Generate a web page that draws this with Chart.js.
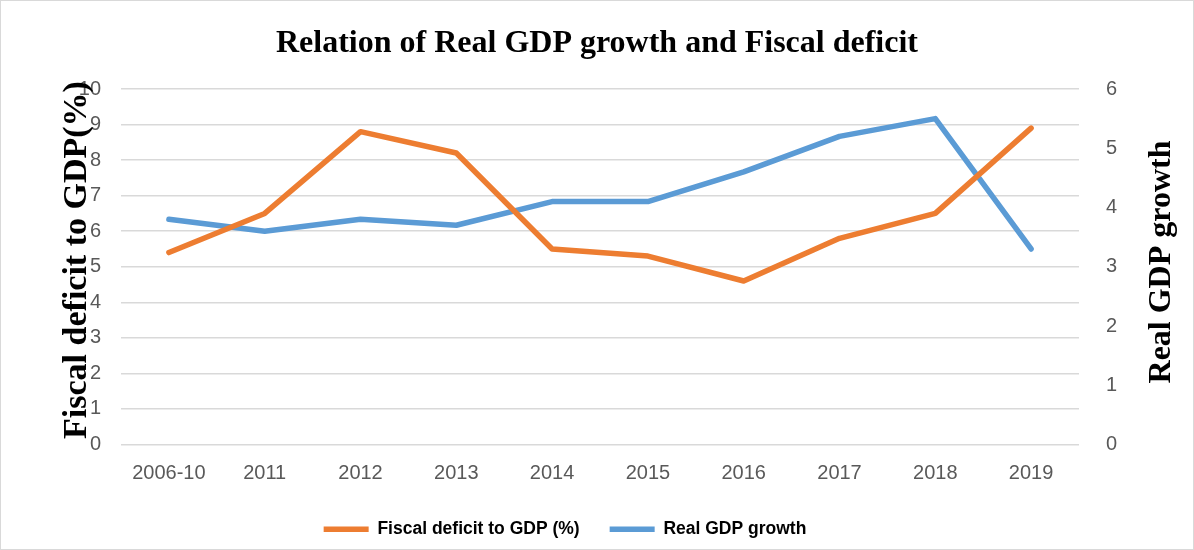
<!DOCTYPE html>
<html>
<head>
  <title>Relation of Real GDP growth and Fiscal deficit</title>
  <style>
    body { margin: 0; background: #fff; }
    .frame { width: 1194px; height: 550px; box-sizing: border-box; border: 1px solid #d9d9d9; }
    canvas { display: block; }
  </style>
  <script src="https://cdn.jsdelivr.net/npm/chart.js@4.4.1/dist/chart.umd.min.js"></script>
</head>
<body>
  <div class="frame"><canvas id="chart" width="1192" height="548"></canvas></div>
  <script>
    const years = ["2006-10", "2011", "2012", "2013", "2014", "2015", "2016", "2017", "2018", "2019"];
    const fiscalDeficit = [5.4, 6.5, 8.8, 8.2, 5.5, 5.3, 4.6, 5.8, 6.5, 8.9];
    const realGdpGrowth = [3.8, 3.6, 3.8, 3.7, 4.1, 4.1, 4.6, 5.2, 5.5, 3.3];

    const tickColor = "#595959";
    const tickFont = { family: "'Liberation Sans', Arial, sans-serif", size: 20 };
    const serif = "'Liberation Serif', 'Times New Roman', serif";

    function drawRotated(ctx, text, x, y, size) {
      ctx.save();
      ctx.fillStyle = "#000";
      ctx.font = "bold " + size + "px " + serif;
      ctx.textAlign = "center";
      ctx.textBaseline = "middle";
      ctx.translate(x, y);
      ctx.rotate(-Math.PI / 2);
      ctx.fillText(text, 0, 0);
      ctx.restore();
    }

    // title + rotated axis titles drawn by hand so they can overlap the ticks like the original
    const textPlugin = {
      id: "texts",
      afterLayout(chart) {
        // legend in the original sits a bit left of centre
        chart.legend.left -= 32;
        chart.legend.right -= 32;
      },
      afterDraw(chart) {
        const { ctx } = chart;
        ctx.save();
        ctx.fillStyle = "#000";
        ctx.font = "bold 32px " + serif;
        ctx.textAlign = "center";
        ctx.textBaseline = "middle";
        ctx.fillText("Relation of Real GDP growth and Fiscal deficit", 596, 43);
        ctx.restore();

        drawRotated(ctx, "Fiscal deficit to GDP(%)", 76, 259, 34);
        drawRotated(ctx, "Real GDP growth", 1161, 261, 32);
      },
    };

    new Chart(document.getElementById("chart"), {
      type: "line",
      data: {
        labels: years,
        datasets: [
          {
            label: "Fiscal deficit to GDP (%)",
            data: fiscalDeficit,
            yAxisID: "y",
            borderColor: "#ED7D31",
            backgroundColor: "#ED7D31",
            borderWidth: 5.5,
            borderCapStyle: "round",
            borderJoinStyle: "round",
            pointRadius: 0,
            tension: 0,
          },
          {
            label: "Real GDP growth",
            data: realGdpGrowth,
            yAxisID: "y1",
            borderColor: "#5B9BD5",
            backgroundColor: "#5B9BD5",
            borderWidth: 5.5,
            borderCapStyle: "round",
            borderJoinStyle: "round",
            pointRadius: 0,
            tension: 0,
          },
        ],
      },
      options: {
        responsive: false,
        animation: false,
        layout: { padding: { top: 88, left: 0, right: 0, bottom: 1 } },
        plugins: {
          title: { display: false },
          tooltip: { enabled: false },
          legend: {
            position: "bottom",
            labels: {
              usePointStyle: true,
              pointStyle: "line",
              pointStyleWidth: 45,
              color: "#000",
              padding: 30,
              font: { family: "'Liberation Sans', Arial, sans-serif", size: 17.5, weight: "bold" },
            },
          },
        },
        scales: {
          x: {
            offset: true,
            grid: { display: false },
            border: { display: false },
            ticks: { color: tickColor, font: tickFont, padding: 9, maxRotation: 0 },
            afterFit(scale) { scale.height = 46; },
          },
          y: {
            position: "left",
            min: 0,
            max: 10,
            grid: { color: "#d9d9d9", lineWidth: 1.5, drawTicks: false },
            border: { display: false },
            ticks: { stepSize: 1, color: tickColor, font: tickFont, padding: 20 },
            afterFit(scale) { scale.width = 120; },
          },
          y1: {
            position: "right",
            min: 0,
            max: 6,
            grid: { display: false, drawTicks: false },
            border: { display: false },
            ticks: { stepSize: 1, color: tickColor, font: tickFont, padding: 27 },
            afterFit(scale) { scale.width = 114; },
          },
        },
      },
      plugins: [textPlugin],
    });
  </script>
</body>
</html>
